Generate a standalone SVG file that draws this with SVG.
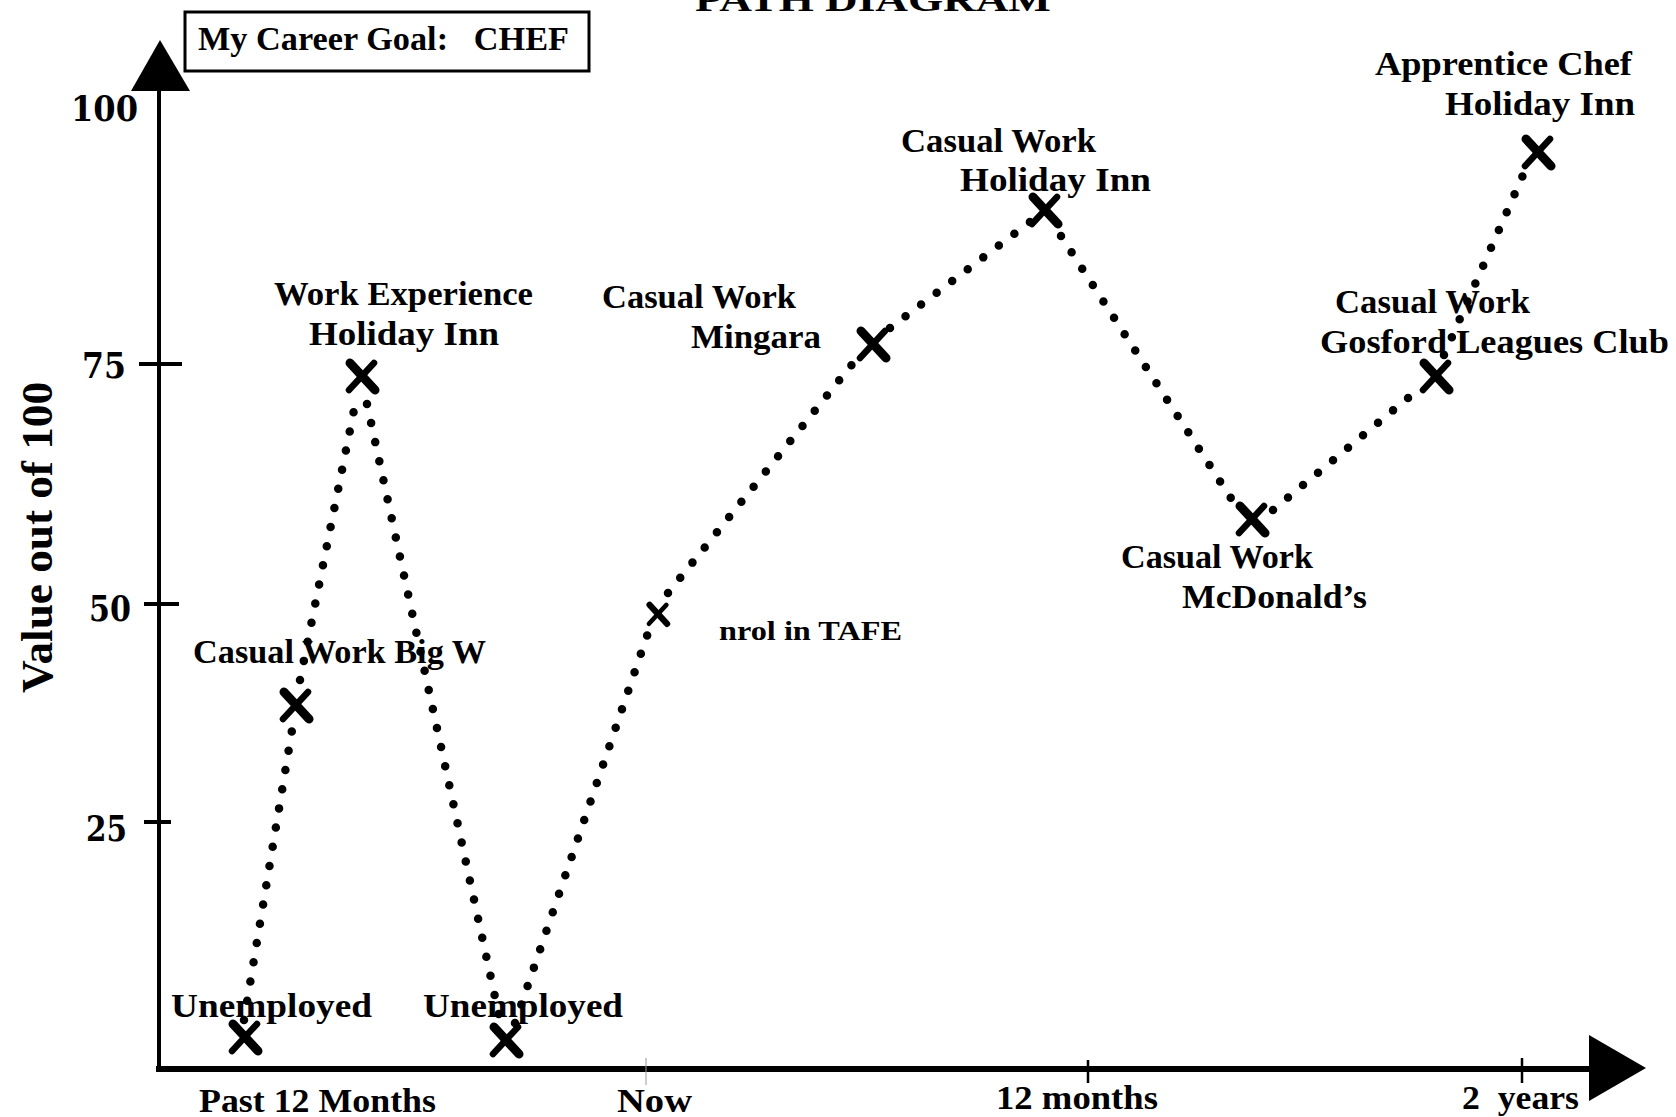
<svg xmlns="http://www.w3.org/2000/svg" xmlns:xlink="http://www.w3.org/1999/xlink" width="1676" height="1117" viewBox="0 0 1676 1117">
<style>
.lbl{font-family:"Liberation Serif","Times New Roman",serif;font-weight:bold;font-size:34px;fill:#000}
.num{font-family:"DejaVu Serif","Liberation Serif",serif;font-weight:bold;font-size:36px;fill:#000}
.ax{stroke:#000;fill:none}
.dots{fill:none;stroke:#000;stroke-width:8.5;stroke-linecap:round;stroke-dasharray:0 19.5}
.pre{white-space:pre}
</style>
<defs>
<g id="xm">
<line x1="-12" y1="-13" x2="13" y2="14" stroke="#000" stroke-width="9" stroke-linecap="round"/>
<line x1="12" y1="-13" x2="-13" y2="14" stroke="#000" stroke-width="6.5" stroke-linecap="round"/>
</g>
</defs>
<rect width="1676" height="1117" fill="#fff"/>

<g id="title">
<text class="lbl" x="695" y="11" font-size="40" textLength="356" lengthAdjust="spacingAndGlyphs">PATH DIAGRAM</text>
</g>

<g id="career-goal">
<rect x="185" y="12" width="404" height="59" fill="none" stroke="#000" stroke-width="3"/>
<text class="lbl pre" x="198" y="50" textLength="371" lengthAdjust="spacingAndGlyphs">My Career Goal:   CHEF</text>
</g>

<g id="axes">
<line class="ax" x1="159" y1="88" x2="159" y2="1069" stroke-width="4"/>
<polygon points="160,40 131,91 190,91" fill="#000"/>
<line class="ax" x1="139" y1="364" x2="182" y2="364" stroke-width="4"/>
<line class="ax" x1="144" y1="604" x2="179" y2="604" stroke-width="4"/>
<line class="ax" x1="144" y1="822" x2="171" y2="822" stroke-width="4"/>
<line class="ax" x1="156" y1="1069" x2="1595" y2="1069" stroke-width="6"/>
<polygon points="1589,1035 1646,1068 1589,1101" fill="#000"/>
<line x1="646" y1="1058" x2="646" y2="1085" stroke="#999" stroke-width="1"/>
<line class="ax" x1="1088" y1="1060" x2="1088" y2="1083" stroke-width="2.5"/>
<line class="ax" x1="1522" y1="1058" x2="1522" y2="1083" stroke-width="2.5"/>
<text class="num" x="71" y="121" textLength="67" lengthAdjust="spacingAndGlyphs">100</text>
<text class="num" x="82" y="378" textLength="44" lengthAdjust="spacingAndGlyphs">75</text>
<text class="num" x="89" y="621" textLength="42" lengthAdjust="spacingAndGlyphs">50</text>
<text class="num" x="86" y="841" textLength="41" lengthAdjust="spacingAndGlyphs">25</text>
<text transform="translate(52,693) rotate(-90)" x="0" y="0" font-family="Liberation Serif, serif" font-weight="bold" font-size="44" textLength="311" lengthAdjust="spacingAndGlyphs">Value out of 100</text>
<text class="lbl" x="199" y="1112" textLength="237" lengthAdjust="spacingAndGlyphs">Past 12 Months</text>
<text class="lbl" x="617" y="1112" textLength="75" lengthAdjust="spacingAndGlyphs">Now</text>
<text class="lbl" x="996" y="1109" textLength="162" lengthAdjust="spacingAndGlyphs">12 months</text>
<text class="lbl pre" x="1462" y="1109" textLength="117" lengthAdjust="spacingAndGlyphs">2  years</text>
</g>

<g id="connectors">
<path class="dots" d="M244,1020 L293,724"/>
<path class="dots" d="M300,680 L355,405"/>
<path class="dots" d="M367,404 L500,1020"/>
<path class="dots" d="M515,1023 L650,627"/>
<path class="dots" d="M668,593 L862,352"/>
<path class="dots" d="M890,328 L1030,222"/>
<path class="dots" d="M1061,236 L1236,506"/>
<path class="dots" d="M1273,510 L1420,388"/>
<path class="dots" d="M1444,355 L1523,175"/>
</g>

<g id="node-unemployed-1">
<use xlink:href="#xm" href="#xm" x="245" y="1037"/>
<text class="lbl" x="171" y="1017" textLength="201" lengthAdjust="spacingAndGlyphs">Unemployed</text>
</g>
<g id="node-bigw">
<use xlink:href="#xm" href="#xm" x="296" y="705"/>
<text class="lbl" x="193" y="663" textLength="293" lengthAdjust="spacingAndGlyphs">Casual Work Big W</text>
</g>
<g id="node-work-experience">
<use xlink:href="#xm" href="#xm" x="362" y="376"/>
<text class="lbl" x="274" y="305" textLength="259" lengthAdjust="spacingAndGlyphs">Work Experience</text>
<text class="lbl" x="309" y="345" textLength="190" lengthAdjust="spacingAndGlyphs">Holiday Inn</text>
</g>
<g id="node-unemployed-2">
<use xlink:href="#xm" href="#xm" x="506" y="1040"/>
<text class="lbl" x="423" y="1017" textLength="200" lengthAdjust="spacingAndGlyphs">Unemployed</text>
</g>
<g id="node-tafe">
<use xlink:href="#xm" href="#xm" transform="translate(658,614) scale(0.7)"/>
<text x="719" y="640" font-family="Liberation Serif, serif" font-weight="bold" font-size="28" textLength="183" lengthAdjust="spacingAndGlyphs">nrol in TAFE</text>
</g>
<g id="node-mingara">
<use xlink:href="#xm" href="#xm" x="873" y="344"/>
<text class="lbl" x="602" y="308" textLength="194" lengthAdjust="spacingAndGlyphs">Casual Work</text>
<text class="lbl" x="691" y="348" textLength="130" lengthAdjust="spacingAndGlyphs">Mingara</text>
</g>
<g id="node-holiday-casual">
<use xlink:href="#xm" href="#xm" x="1045" y="210"/>
<text class="lbl" x="901" y="152" textLength="195" lengthAdjust="spacingAndGlyphs">Casual Work</text>
<text class="lbl" x="960" y="191" textLength="191" lengthAdjust="spacingAndGlyphs">Holiday Inn</text>
</g>
<g id="node-mcdonalds">
<use xlink:href="#xm" href="#xm" x="1252" y="519"/>
<text class="lbl" x="1121" y="568" textLength="192" lengthAdjust="spacingAndGlyphs">Casual Work</text>
<text class="lbl" x="1182" y="608" textLength="185" lengthAdjust="spacingAndGlyphs">McDonald’s</text>
</g>
<g id="node-gosford">
<use xlink:href="#xm" href="#xm" x="1436" y="376"/>
<text class="lbl" x="1335" y="313" textLength="195" lengthAdjust="spacingAndGlyphs">Casual Work</text>
<text class="lbl" x="1320" y="353" textLength="349" lengthAdjust="spacingAndGlyphs">Gosford Leagues Club</text>
</g>
<g id="node-apprentice">
<use xlink:href="#xm" href="#xm" x="1538" y="152"/>
<text class="lbl" x="1375" y="75" textLength="257" lengthAdjust="spacingAndGlyphs">Apprentice Chef</text>
<text class="lbl" x="1445" y="115" textLength="190" lengthAdjust="spacingAndGlyphs">Holiday Inn</text>
</g>
</svg>
